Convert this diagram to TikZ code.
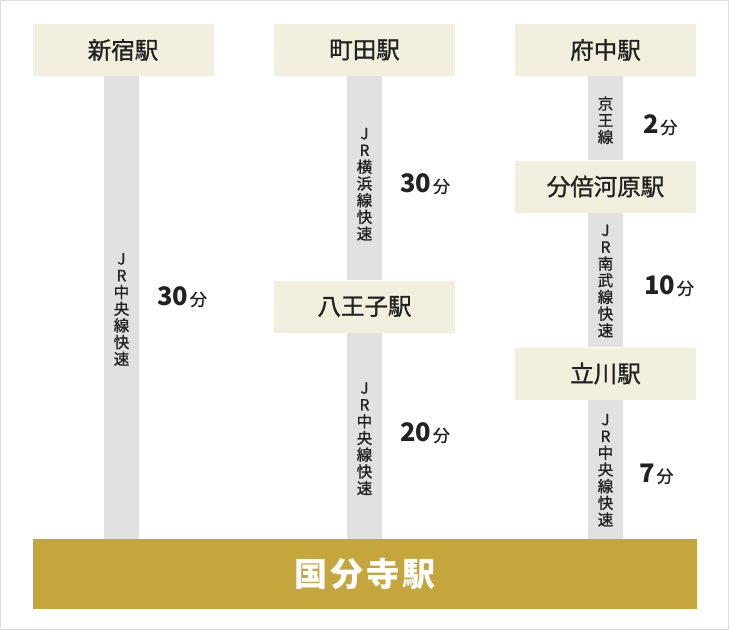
\documentclass[tikz,border=0pt]{standalone}
\usepackage{fontspec}
\setmainfont{Noto Sans CJK JP}
\newfontfamily\jpmed[FakeBold=1.2]{Noto Sans CJK JP}
\usetikzlibrary{backgrounds}
\definecolor{cream}{HTML}{F3EFDE}
\definecolor{barc}{HTML}{E1E1E1}
\definecolor{gold}{HTML}{C4A63C}
\definecolor{textc}{HTML}{222222}
\definecolor{framec}{HTML}{DDDDDD}
\begin{document}
\begin{tikzpicture}[x=1pt,y=-1pt,
  station/.style={fill=cream, minimum width=181pt, minimum height=52pt, inner sep=0pt,
    text=textc, font=\jpmed\fontsize{23.5}{23.5}\selectfont},
  mainstation/.style={fill=gold, minimum width=664pt, minimum height=70pt, inner sep=0pt,
    text=white, font=\fontsize{33}{33}\selectfont\bfseries},
  rail/.style={draw=barc, line width=35pt},
  vlabel/.style={align=center, inner sep=0pt, text=textc, font=\jpmed\fontsize{15.5}{16.7}\selectfont},
  timelabel/.style={anchor=west, inner sep=0pt, text=textc}
]
\useasboundingbox (0,0) rectangle (729,630);
\draw[framec] (0.5,0.5) rectangle (728.5,629.5);

\newcommand\tm[1]{{\fontsize{25.5}{25.5}\selectfont\bfseries #1}\,{\jpmed\fontsize{17}{17}\selectfont 分}}

\node[station] (shinjuku) at (123,50) {新宿駅};
\node[station] (machida) at (364.5,50) {町田駅};
\node[station] (fuchu) at (605.5,50) {府中駅};
\node[station] (hachioji) at (364.5,306.5) {八王子駅};
\node[station] (bubai) at (605.5,186.5) {分倍河原駅};
\node[station] (tachikawa) at (605.5,373.5) {立川駅};
\node[mainstation] (kokubunji) at (365,574) {国\hspace{3pt}分\hspace{3pt}寺\hspace{3pt}駅\hspace{3pt}};

\begin{scope}[on background layer]
\draw[rail] ([xshift=-1.5pt]shinjuku.south) -- ([xshift=-1.5pt]shinjuku.south |- kokubunji.north)
  node[midway, vlabel, yshift=-2pt] {J\\R\\中\\央\\線\\快\\速};
\draw[rail] (machida.south) -- (hachioji.north)
  node[midway, vlabel, yshift=-6pt] {J\\R\\横\\浜\\線\\快\\速};
\draw[rail] (hachioji.south) -- (hachioji.south |- kokubunji.north)
  node[midway, vlabel, yshift=-3pt] {J\\R\\中\\央\\線\\快\\速};
\draw[rail] (fuchu.south) -- (bubai.north)
  node[midway, vlabel, yshift=-2pt] {京\\王\\線};
\draw[rail] (bubai.south) -- (tachikawa.north)
  node[midway, vlabel, yshift=-1pt] {J\\R\\南\\武\\線\\快\\速};
\draw[rail] (tachikawa.south) -- (tachikawa.south |- kokubunji.north)
  node[midway, vlabel, yshift=-1pt] {J\\R\\中\\央\\線\\快\\速};
\end{scope}

\node[timelabel] (t1) at (157,297) {\tm{30}};
\node[timelabel] (t2) at (400,184) {\tm{30}};
\node[timelabel] (t3) at (400,433) {\tm{20}};
\node[timelabel] (t4) at (643,125) {\tm{2}};
\node[timelabel] (t5) at (644,286) {\tm{10}};
\node[timelabel] (t6) at (639,474) {\tm{7}};
\end{tikzpicture}
\end{document}
